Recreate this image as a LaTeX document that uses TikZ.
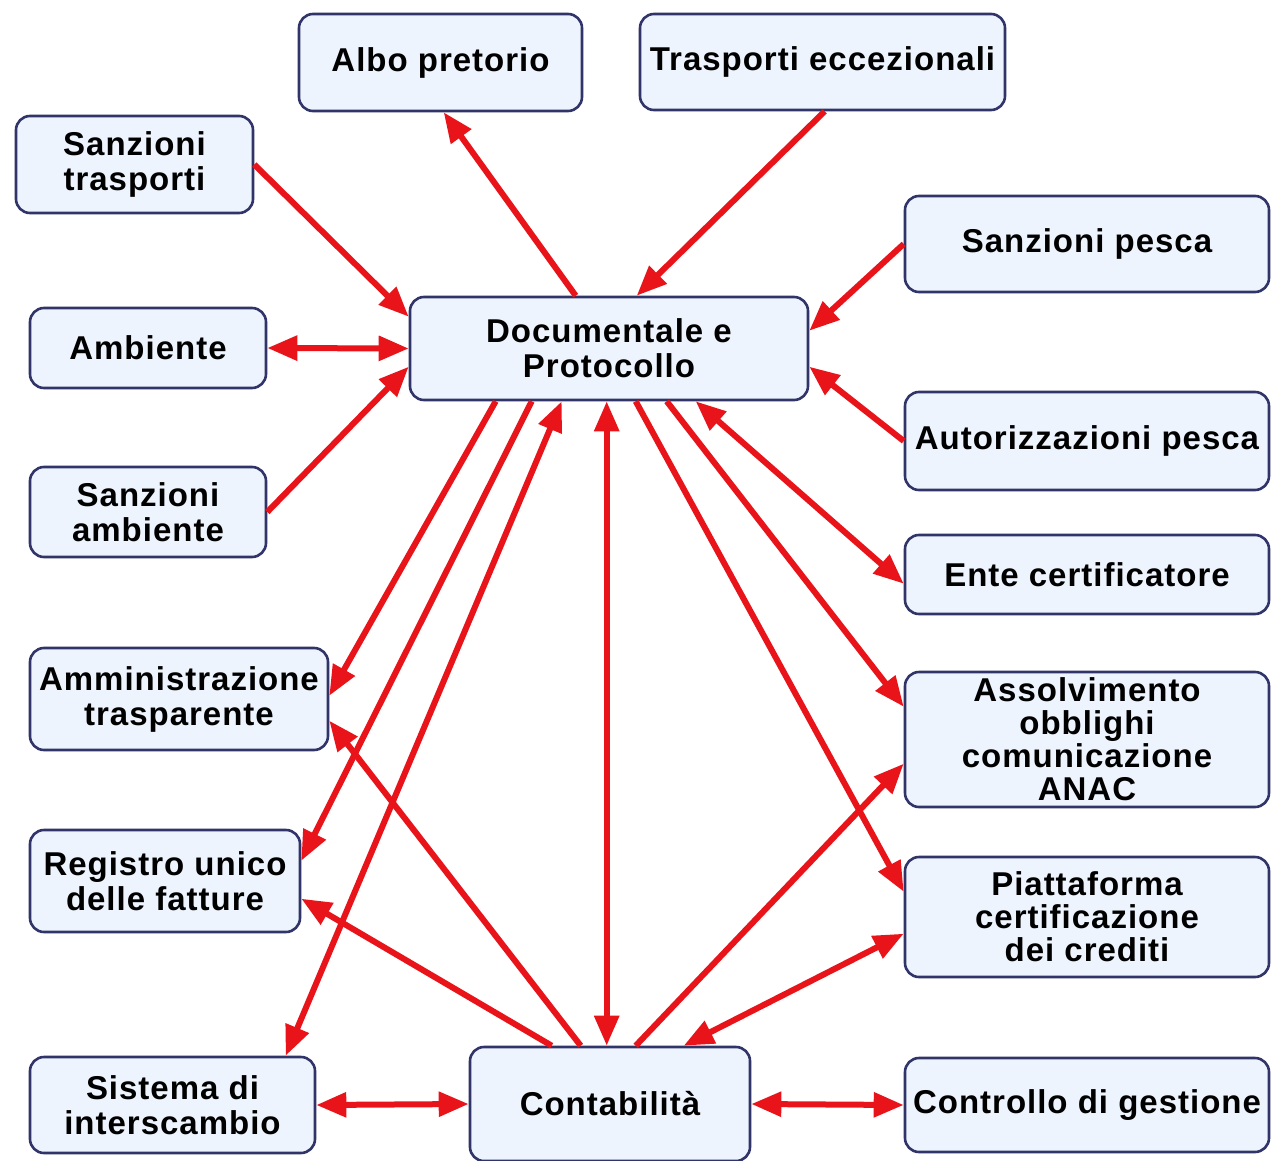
\documentclass[tikz,border=0pt]{standalone}
\usepackage{fontspec}
\newfontfamily\boxfont{Liberation Sans}[LetterSpace=3]
\usetikzlibrary{arrows.meta,calc}
\definecolor{boxfill}{HTML}{EEF4FD}
\definecolor{boxline}{HTML}{303468}
\definecolor{arr}{HTML}{E8141A}
\tikzset{
  box/.style={draw=boxline, line width=2.6pt, fill=boxfill, rounded corners=14pt,
    align=center, inner sep=0pt, font=\boxfont\bfseries\fontsize{33}{35}\selectfont},
  link/.style={draw=arr, line width=6pt, -{Triangle[length=30pt,width=24pt]}},
  blink/.style={draw=arr, line width=6pt, {Triangle[length=30pt,width=24pt]}-{Triangle[length=30pt,width=24pt]}}
}
\begin{document}
\begin{tikzpicture}[x=1pt,y=-1pt]
\useasboundingbox (0,0) rectangle (1271,1161);
\fill[white] (0,0) rectangle (1271,1161);
% nodes
\node[box, minimum width=283pt, minimum height=97pt] (albo) at (440.5,62.5) {Albo pretorio};
\node[box, minimum width=365pt, minimum height=96pt] (trasp) at (822.5,62) {Trasporti eccezionali};
\node[box, minimum width=237pt, minimum height=97pt] (santr) at (134.5,164.5) {Sanzioni\\trasporti};
\node[box, minimum width=364pt, minimum height=96pt] (sanpe) at (1087,244) {Sanzioni pesca};
\node[box, minimum width=398pt, minimum height=103pt] (doc) at (609,348.5) {Documentale e\\Protocollo};
\node[box, minimum width=236pt, minimum height=80pt] (amb) at (148,348) {Ambiente};
\node[box, minimum width=364pt, minimum height=98pt] (autpe) at (1087,441) {Autorizzazioni pesca};
\node[box, minimum width=236pt, minimum height=90pt] (sanamb) at (148,512) {Sanzioni\\ambiente};
\node[box, minimum width=364pt, minimum height=79pt] (ente) at (1087,574.5) {Ente certificatore};
\node[box, minimum width=298pt, minimum height=102pt] (amm) at (179,699) {Amministrazione\\trasparente};
\node[box, minimum width=364pt, minimum height=135pt] (anac) at (1087,739.5) {Assolvimento\\[-2pt]obblighi\\[-2pt]comunicazione\\[-2pt]ANAC};
\node[box, minimum width=270pt, minimum height=102pt] (reg) at (165,881) {Registro unico\\delle fatture};
\node[box, minimum width=364pt, minimum height=120pt] (piatt) at (1087,917) {Piattaforma\\[-2pt]certificazione\\[-2pt]dei crediti};
\node[box, minimum width=285pt, minimum height=96pt] (sdi) at (172.5,1105) {Sistema di\\interscambio};
\node[box, minimum width=280pt, minimum height=114pt] (cont) at (610,1104) {Contabilità};
\node[box, minimum width=364pt, minimum height=94pt] (ctrl) at (1087,1105) {Controllo di gestione};
% connectors
\draw[link] ($(doc.north west)+(167,0)$) -- ($(albo.south west)+(146,0)$);
\draw[link] ($(trasp.south west)+(186,0)$) -- ($(doc.north west)+(228,0)$);
\draw[link] (santr.east) -- ($(doc.north west)+(0,21)$);
\draw[blink] (amb.east) -- (doc.west);
\draw[link] (sanamb.east) -- ($(doc.north west)+(0,71)$);
\draw[link] (sanpe.west) -- ($(doc.north east)+(0,35)$);
\draw[link] (autpe.west) -- ($(doc.north east)+(0,71)$);
\draw[blink] ($(doc.south west)+(287,0)$) -- ($(ente.north west)+(0,50)$);
\draw[link] ($(doc.south west)+(258,0)$) -- ($(anac.north west)+(0,36)$);
\draw[link] ($(doc.south west)+(227,0)$) -- ($(piatt.north west)+(0,36)$);
\draw[blink] ($(doc.south west)+(198,0)$) -- ($(cont.north west)+(138,0)$);
\draw[link] ($(doc.south west)+(87,0)$) -- ($(amm.north east)+(0,49)$);
\draw[link] ($(doc.south west)+(123,0)$) -- ($(reg.north east)+(0,32)$);
\draw[blink] ($(doc.south west)+(153,0)$) -- ($(sdi.north west)+(257,0)$);
\draw[link] ($(cont.north west)+(112,0)$) -- ($(amm.north east)+(0,74)$);
\draw[link] ($(cont.north west)+(83,0)$) -- ($(reg.north east)+(0,70)$);
\draw[link] ($(cont.north west)+(167,0)$) -- ($(anac.north west)+(0,93)$);
\draw[blink] ($(cont.north west)+(215,0)$) -- ($(piatt.north west)+(0,78)$);
\draw[blink] (sdi.east) -- (cont.west);
\draw[blink] (cont.east) -- (ctrl.west);
\end{tikzpicture}
\end{document}
